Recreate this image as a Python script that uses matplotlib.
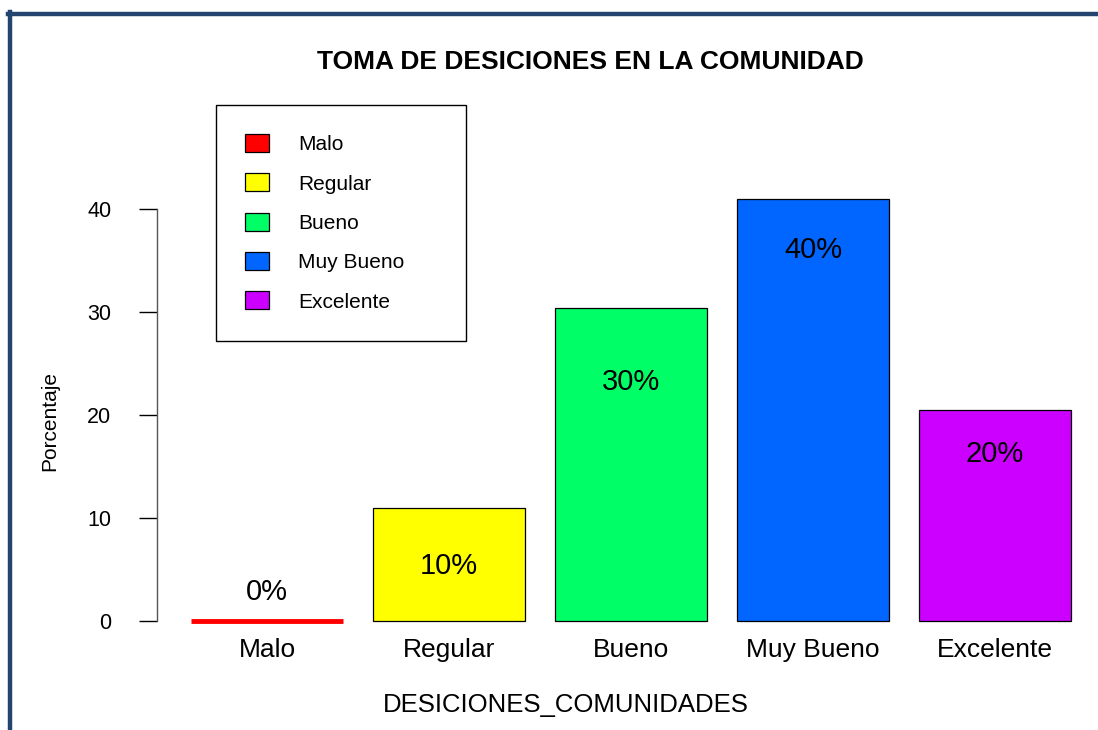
import matplotlib.pyplot as plt
from matplotlib.lines import Line2D

plt.rcParams['font.family'] = ['Liberation Sans', 'DejaVu Sans']

categories = ['Malo', 'Regular', 'Bueno', 'Muy Bueno', 'Excelente']
values = [0, 11, 30.4, 41, 20.5]
labels = ['0%', '10%', '30%', '40%', '20%']
colors = ['#FF0000', '#FFFF00', '#00FF66', '#0066FF', '#CC00FF']
yticks = [0, 10, 20, 30, 40]
# where the percentage text sits
label_y = [2.8, 5.3, 23.2, 36.0, 16.2]

W, H = 1098, 730
fig = plt.figure(figsize=(W / 100, H / 100), dpi=100)

# plot region in pixels: x 157..1098, y 183.6..636.4
ax = fig.add_axes([157 / W, (H - 636.4) / H, (W - 157) / W, (636.4 - 183.6) / H])

# R barplot layout: width 1, space 0.2
x = [0.7 + 1.2 * i for i in range(len(categories))]
edges = ['black' if v > 0 else c for v, c in zip(values, colors)]
lws = [0.9 if v > 0 else 3.5 for v in values]
bars = ax.bar(x, values, width=1.0, color=colors, edgecolor=edges, linewidth=lws)

for xi, yi, t in zip(x, label_y, labels):
    ax.text(xi, yi, t, ha='center', va='center', fontsize=21)

ax.set_xlim(-0.026, 6.18)
ax.set_ylim(-1.5, 42.5)

ax.set_xticks(x)
ax.set_xticklabels(categories, fontsize=19)
ax.tick_params(axis='x', length=0, pad=1)

ax.set_yticks(yticks)
ax.set_yticklabels([str(t) for t in yticks], fontsize=15.5)
ax.tick_params(axis='y', length=13, width=1, pad=20)

for s in ['top', 'right', 'bottom']:
    ax.spines[s].set_visible(False)
ax.spines['left'].set_bounds(0, 40)
ax.spines['left'].set_color('#555555')
ax.spines['left'].set_linewidth(1)

fig.text(590 / W, 1 - 62 / H, 'TOMA DE DESICIONES EN LA COMUNIDAD',
         ha='center', va='center', fontsize=19, fontweight='bold')
fig.text(566 / W, 1 - 705 / H, 'DESICIONES_COMUNIDADES',
         ha='center', va='center', fontsize=18.5)
fig.text(50 / W, 1 - 421 / H, 'Porcentaje', rotation=90,
         ha='center', va='center', fontsize=15)

leg = fig.legend(bars, categories, loc='upper left',
                 bbox_to_anchor=(216 / W, 1 - 337 / H, 250 / W, 232 / H),
                 mode='expand', borderaxespad=0, fontsize=15,
                 handlelength=1.15, handleheight=0.95, handletextpad=1.4,
                 labelspacing=0.92, borderpad=1.4, fancybox=False,
                 framealpha=1, edgecolor='black')
leg.get_frame().set_linewidth(1)
for p in leg.get_patches():
    p.set_edgecolor('black')
    p.set_linewidth(0.9)

# dark frame around the picture (only top and left edges are visible)
navy = '#23446E'
fig.add_artist(Line2D([10 / W, 10 / W], [0, 1 - 12 / H], color=navy, lw=3.2,
                      transform=fig.transFigure))
fig.add_artist(Line2D([8 / W, 1], [1 - 14 / H, 1 - 14 / H], color=navy, lw=3.2,
                      transform=fig.transFigure))

fig.savefig('out.png', dpi=100)
